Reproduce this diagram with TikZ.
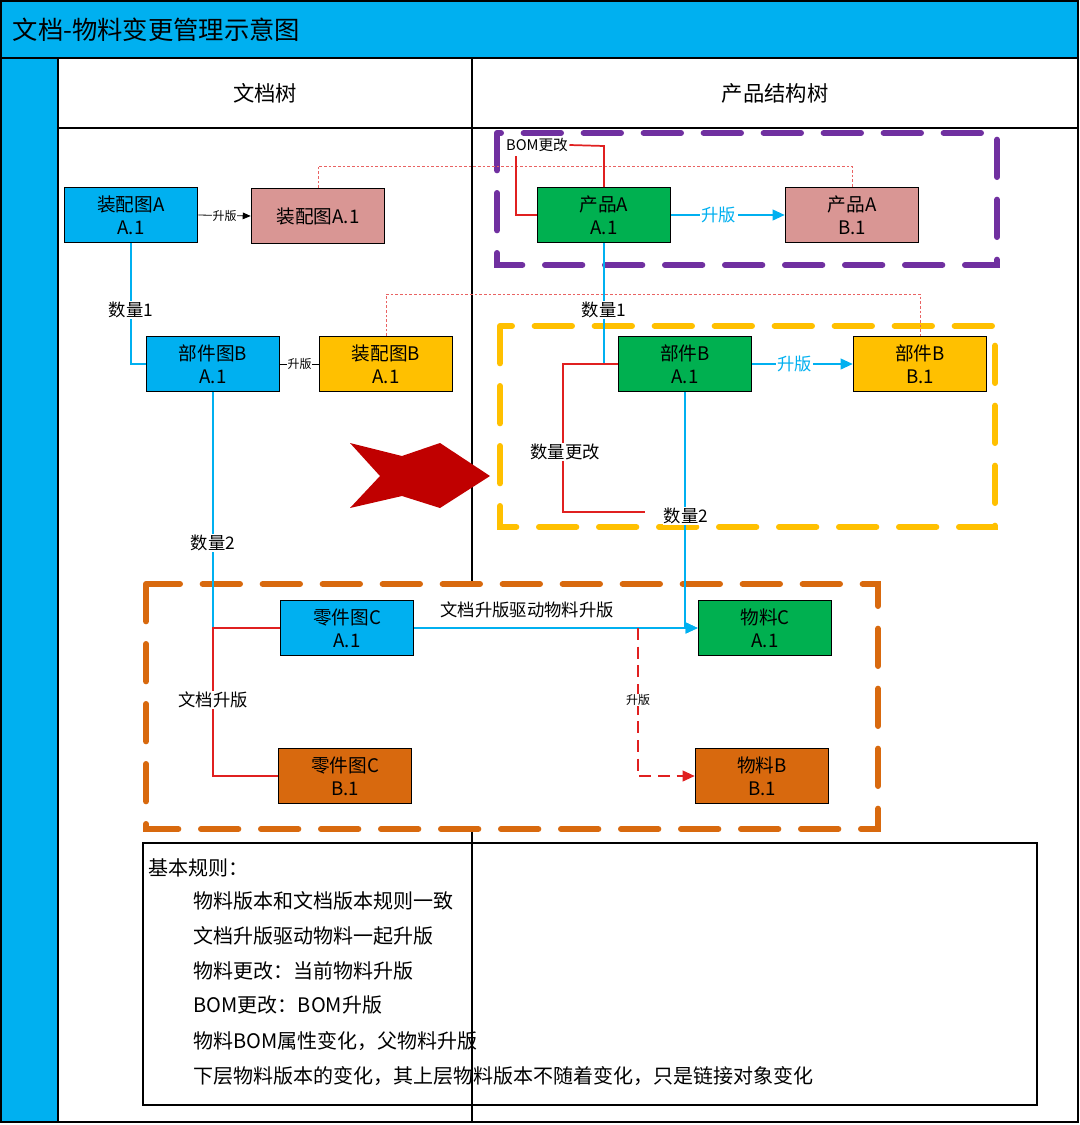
\documentclass[tikz,border=0pt]{standalone}
\usepackage{fontspec}
\setmainfont{Noto Sans CJK SC}
\usetikzlibrary{arrows.meta}
\definecolor{cy}{HTML}{00B0F0}
\definecolor{gr}{HTML}{00B050}
\definecolor{pk}{HTML}{D99694}
\definecolor{am}{HTML}{FFC000}
\definecolor{orn}{HTML}{D8690E}
\definecolor{pu}{HTML}{7030A0}
\definecolor{dr}{HTML}{C00000}
\definecolor{rl}{HTML}{E02020}
\tikzset{
 box/.style={draw=black,line width=0.9pt,minimum width=100pt,minimum height=41pt,align=center,inner sep=0pt,font=\fontsize{14}{17}\selectfont},
 lab/.style={fill=white,inner sep=1pt,font=\fontsize{13}{15}\selectfont},
 slab/.style={fill=white,inner sep=0.5pt,font=\fontsize{9}{11}\selectfont},
 cyl/.style={draw=cy,line width=1.3pt},
 redl/.style={draw=rl,line width=1.3pt},
 dotl/.style={draw=rl!70,line width=0.5pt,dash pattern=on 2pt off 1.5pt},
 bigdash/.style={line width=4.5pt,dash pattern=on 28pt off 17pt,line cap=round},
 arr/.style={-{Triangle[length=9pt,width=8pt]}}
}
\begin{document}
\begin{tikzpicture}[x=0.75pt,y=-0.75pt]
\useasboundingbox (0,0) rectangle (1080,1125);
% frame
\draw[fill=cy,line width=0.8pt] (1,1) rectangle (1078,58);
\node[anchor=west,font=\fontsize{19}{22}\selectfont] (title) at (8,30) {文档-物料变更管理示意图};
\draw[fill=cy,line width=0.8pt] (1,58) rectangle (58,1122);
\draw[line width=0.8pt] (58,58) rectangle (1078,1122);
\draw[line width=0.8pt] (58,128) -- (1078,128);
\draw[line width=0.8pt] (472,58) -- (472,582);
\draw[line width=0.8pt] (472,830) -- (472,1122);
\node[font=\fontsize{16}{19}\selectfont] (h1) at (265,93) {文档树};
\node[font=\fontsize{16}{19}\selectfont] (h2) at (775,93) {产品结构树};
% dashed groups
\draw[bigdash,pu] (497,133) rectangle (997,265);
\draw[bigdash,am] (500,326) rectangle (995,527);
\draw[bigdash,orn] (146,584) rectangle (878,829);
% nodes
\node[box,fill=cy] (zA) at (131,215) {装配图A\\A.1};
\node[box,fill=pk] (zA1) at (318,216) {装配图A.1};
\node[box,fill=cy] (bB) at (213,364) {部件图B\\A.1};
\node[box,fill=am] (zB) at (386,364) {装配图B\\A.1};
\node[box,fill=gr] (pA) at (604,215) {产品A\\A.1};
\node[box,fill=pk] (pB) at (852,215) {产品A\\B.1};
\node[box,fill=gr] (bA) at (685,364) {部件B\\A.1};
\node[box,fill=am] (bBB) at (920,364) {部件B\\B.1};
\node[box,fill=cy] (lC) at (347,628) {零件图C\\A.1};
\node[box,fill=gr] (mC) at (765,628) {物料C\\A.1};
\node[box,fill=orn] (lCB) at (345,776) {零件图C\\B.1};
\node[box,fill=orn] (mB) at (762,776) {物料B\\B.1};
% dotted red links
\draw[dotl] (zA1.north) -- (318,166) -- (852,166) -- (pB.north);
\draw[dotl] (zB.north) -- (386,294) -- (920,294) -- (bBB.north);
% left tree
\draw[cyl] (zA.south) -- (131,364) -- (bB.west);
\node[lab] (q1) at (131,310) {数量1};
\draw[cyl] (bB.south) -- (213,628);
\node[lab] (q2) at (213,543) {数量2};
\draw[redl] (lC.west) -- (213,628) -- (213,776) -- (lCB.west);
\node[lab] (wd) at (213,700) {文档升版};
\draw[line width=0.6pt,-{Triangle[length=6pt,width=5pt]}] (zA.east) -- (zA1.west) node[slab,midway] {升版};
\draw[line width=0.6pt] (bB.east) -- (zB.west) node[slab,midway] {升版};
% right tree
\node[lab,font=\fontsize{11}{13}\selectfont] (bom) at (537,145) {BOM更改};
\draw[redl] (pA.west) -- (516,215) -- (516,156);
\draw[redl] (bom.east) -- (604,146) -- (pA.north);
\draw[cyl] (pA.south) -- (604,364) -- (bA.west);
\node[lab] (q3) at (604,310) {数量1};
\draw[cyl,arr,cy] (pA.east) -- (pB.west) node[lab,midway,pos=0.42] {升版};
\draw[cyl,arr,cy] (bA.east) -- (bBB.west) node[lab,midway,pos=0.42] {升版};
\draw[redl] (bA.west) -- (563,364) -- (563,512) -- (645,512);
\node[lab] (qc) at (565,452) {数量更改};
\draw[cyl,arr,cy] (bA.south) -- (685,628) -- (mC.west);
\node[lab] (q4) at (686,516) {数量2};
\draw[cyl,arr,cy] (lC.east) -- (mC.west);
\node[font=\fontsize{13}{15}\selectfont] (dr) at (527,610) {文档升版驱动物料升版};
\draw[line width=1.3pt,rl,dash pattern=on 9pt off 5pt,arr] (638,628) -- (638,776) -- (mB.west);
\node[slab] (sb) at (638,700) {升版};
% big arrow
\fill[dr] (350,443) -- (402,456) -- (440,443) -- (490,476) -- (440,508) -- (402,496) -- (350,508) -- (380,476) -- cycle;
% rules
\draw[line width=0.8pt] (143,843) rectangle (1037,1105);
\draw[line width=0.8pt] (472,1105) -- (472,1122);
\node[anchor=west,font=\fontsize{15}{18}\selectfont] (r0) at (144,868) {基本规则：};
\begin{scope}[every node/.style={anchor=west,font=\fontsize{15}{18}\selectfont}]
\node (r1) at (189,901) {物料版本和文档版本规则一致};
\node (r2) at (189,936) {文档升版驱动物料一起升版};
\node (r3) at (189,971) {物料更改：当前物料升版};
\node (r4) at (189,1005) {BOM更改：BOM升版};
\node (r5) at (189,1041) {物料BOM属性变化，父物料升版};
\node (r6) at (189,1076) {下层物料版本的变化，其上层物料版本不随着变化，只是链接对象变化};
\end{scope}
\end{tikzpicture}
\end{document}
